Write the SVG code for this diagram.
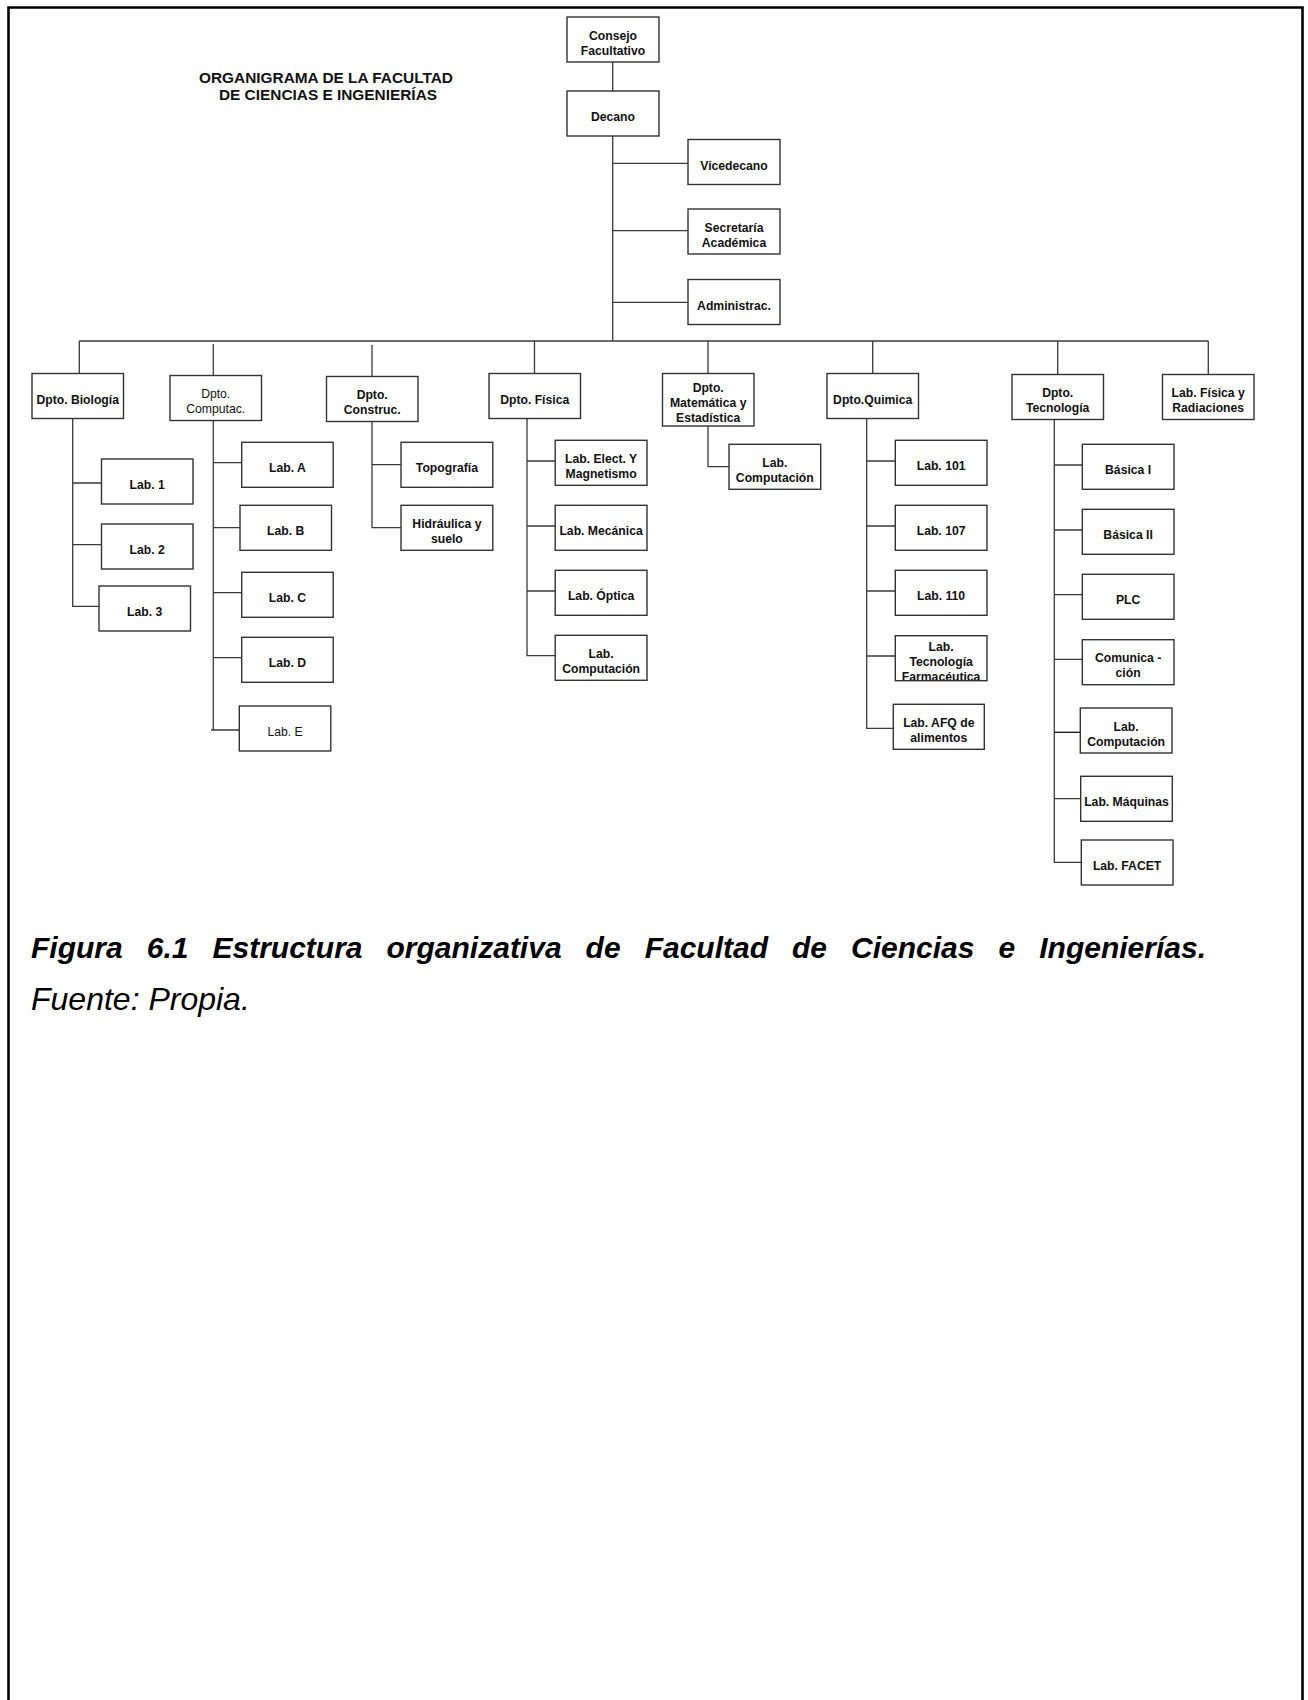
<svg xmlns="http://www.w3.org/2000/svg" width="1308" height="1700" viewBox="0 0 1308 1700">
  <style>
    .box { fill: #ffffff; stroke: #333333; stroke-width: 1.4; }
    .lbl { font-family: "Liberation Sans", Arial, sans-serif; font-size: 12.2px; font-weight: bold; fill: #111111; text-anchor: middle; }
    .reg { font-weight: normal; }
    .title { font-family: "Liberation Sans", Arial, sans-serif; font-size: 15.4px; font-weight: bold; fill: #111111; text-anchor: middle; }
    .cap { font-family: "Liberation Sans", Arial, sans-serif; font-style: italic; fill: #000000; }
    .wire { fill: none; stroke: #3a3a3a; stroke-width: 1.3; }
  </style>

  <rect width="1308" height="1700" fill="#ffffff"/>
  <!-- page frame -->
  <path d="M8.5,1700 V7.5 H1302.5 V1700" fill="none" stroke="#000000" stroke-width="2.6"/>

  <text class="title" x="326" y="82.5">ORGANIGRAMA DE LA FACULTAD</text>
  <text class="title" x="328" y="99.5">DE CIENCIAS E INGENIERÍAS</text>

  <!-- connectors -->
  <g id="connectors" class="wire">
    <path d="M612.7,62 V91"/>
    <path d="M612.7,136 V341"/>
    <path d="M612.7,163.3 H688 M612.7,230.7 H688 M612.7,302.3 H688"/>
    <path d="M79.3,341 H1208.3"/>
    <path d="M79.3,341 V373.5 M213.3,344 V375.5 M372,345 V376.5 M534.5,341 V373.5 M708,341 V373.5 M872.7,341 V373.5 M1057.7,341 V374.5 M1208.3,341 V374.5"/>
    <!-- Biología -->
    <path d="M72.7,418.5 V606.3 H99 M72.7,483 H101.5 M72.7,544.7 H101.5"/>
    <!-- Computación -->
    <path d="M213.3,420.5 V730 M211,730 H239.3 M213.3,462.7 H241.7 M213.3,527.7 H240 M213.3,592.7 H241.7 M213.3,657.7 H241.7"/>
    <!-- Construcción -->
    <path d="M372,421 V527.7 H401 M372,464.7 H401"/>
    <!-- Física -->
    <path d="M527,418.5 V655.7 H555.2 M527,461 H555.2 M527,526 H555.2 M527,591 H555.2"/>
    <!-- Matemática -->
    <path d="M708,426 V466.7 H729"/>
    <!-- Química -->
    <path d="M866.7,418.5 V728.3 H893.3 M866.7,461 H895.3 M866.7,526 H895.3 M866.7,591 H895.3 M866.7,656 H895.3"/>
    <!-- Tecnología -->
    <path d="M1054.3,419.5 V862.3 H1081.3 M1054.3,465 H1082.3 M1054.3,530 H1082.3 M1054.3,594.7 H1082.3 M1054.3,659.3 H1082.3 M1054.3,798.7 H1080.7" />
    <path d="M1054.3,732.3 H1080.3" stroke="#111111"/>
  </g>

  <!-- top management -->
  <g id="consejo"><rect class="box" x="567" y="17" width="92" height="45"/><text class="lbl" x="613" y="39.5">Consejo</text><text class="lbl" x="613" y="54.5">Facultativo</text></g>
  <g id="decano"><rect class="box" x="567" y="91" width="92" height="45"/><text class="lbl" x="613" y="121">Decano</text></g>
  <g id="vicedecano"><rect class="box" x="688" y="139.5" width="92" height="45"/><text class="lbl" x="734" y="169.5">Vicedecano</text></g>
  <g id="secretaria"><rect class="box" x="688" y="209" width="92" height="45"/><text class="lbl" x="734" y="231.5">Secretaría</text><text class="lbl" x="734" y="246.5">Académica</text></g>
  <g id="administrac"><rect class="box" x="688" y="279.5" width="92" height="45"/><text class="lbl" x="734" y="309.5">Administrac.</text></g>

  <!-- departments -->
  <g id="dpto-biologia"><rect class="box" x="32" y="373.5" width="91.5" height="45"/><text class="lbl" x="77.7" y="403.5">Dpto. Biología</text></g>
  <g id="dpto-computac"><rect class="box" x="170" y="375.5" width="91.5" height="45"/><text class="lbl reg" x="215.7" y="398">Dpto.</text><text class="lbl reg" x="215.7" y="413">Computac.</text></g>
  <g id="dpto-construc"><rect class="box" x="326.5" y="376.5" width="91.5" height="45"/><text class="lbl" x="372.2" y="399">Dpto.</text><text class="lbl" x="372.2" y="414">Construc.</text></g>
  <g id="dpto-fisica"><rect class="box" x="489" y="373.5" width="91.5" height="45"/><text class="lbl" x="534.7" y="403.5">Dpto. Física</text></g>
  <g id="dpto-matematica"><rect class="box" x="662.5" y="373.5" width="91.5" height="52.5"/><text class="lbl" x="708.2" y="392.2">Dpto.</text><text class="lbl" x="708.2" y="407">Matemática y</text><text class="lbl" x="708.2" y="421.8">Estadística</text></g>
  <g id="dpto-quimica"><rect class="box" x="827" y="373.5" width="91.5" height="45"/><text class="lbl" x="872.7" y="403.5">Dpto.Quimica</text></g>
  <g id="dpto-tecnologia"><rect class="box" x="1012" y="374.5" width="91.5" height="45"/><text class="lbl" x="1057.7" y="397">Dpto.</text><text class="lbl" x="1057.7" y="412">Tecnología</text></g>
  <g id="lab-fisica-radiaciones"><rect class="box" x="1162.5" y="374.5" width="91.5" height="45"/><text class="lbl" x="1208.2" y="397">Lab. Física y</text><text class="lbl" x="1208.2" y="412">Radiaciones</text></g>

  <!-- Biología labs -->
  <g id="bio-lab1"><rect class="box" x="101.5" y="459" width="91.5" height="45"/><text class="lbl" x="147.2" y="489">Lab. 1</text></g>
  <g id="bio-lab2"><rect class="box" x="101.5" y="524" width="91.5" height="45"/><text class="lbl" x="147.2" y="554">Lab. 2</text></g>
  <g id="bio-lab3"><rect class="box" x="99" y="586" width="91.5" height="45"/><text class="lbl" x="144.7" y="616">Lab. 3</text></g>

  <!-- Computación labs -->
  <g id="comp-labA"><rect class="box" x="241.7" y="442.3" width="91.5" height="45"/><text class="lbl" x="287.4" y="472.3">Lab. A</text></g>
  <g id="comp-labB"><rect class="box" x="240" y="505.3" width="91.5" height="45"/><text class="lbl" x="285.7" y="535.3">Lab. B</text></g>
  <g id="comp-labC"><rect class="box" x="241.7" y="572.3" width="91.5" height="45"/><text class="lbl" x="287.4" y="602.3">Lab. C</text></g>
  <g id="comp-labD"><rect class="box" x="241.7" y="637.3" width="91.5" height="45"/><text class="lbl" x="287.4" y="667.3">Lab. D</text></g>
  <g id="comp-labE"><rect class="box" x="239.3" y="706" width="91.5" height="45"/><text class="lbl reg" x="285" y="736">Lab. E</text></g>

  <!-- Construcción labs -->
  <g id="cons-topografia"><rect class="box" x="401" y="442.3" width="91.8" height="45"/><text class="lbl" x="446.9" y="472.3">Topografía</text></g>
  <g id="cons-hidraulica"><rect class="box" x="401" y="505.3" width="91.8" height="45"/><text class="lbl" x="446.9" y="527.8">Hidráulica y</text><text class="lbl" x="446.9" y="542.8">suelo</text></g>

  <!-- Física labs -->
  <g id="fis-elect"><rect class="box" x="555.2" y="440.3" width="91.8" height="45"/><text class="lbl" x="601.1" y="462.8">Lab. Elect. Y</text><text class="lbl" x="601.1" y="477.8">Magnetismo</text></g>
  <g id="fis-mecanica"><rect class="box" x="555.2" y="505.3" width="91.8" height="45"/><text class="lbl" x="601.1" y="535.3">Lab. Mecánica</text></g>
  <g id="fis-optica"><rect class="box" x="555.2" y="570.3" width="91.8" height="45"/><text class="lbl" x="601.1" y="600.3">Lab. Óptica</text></g>
  <g id="fis-computacion"><rect class="box" x="555.2" y="635.3" width="91.8" height="45"/><text class="lbl" x="601.1" y="657.8">Lab.</text><text class="lbl" x="601.1" y="672.8">Computación</text></g>

  <!-- Matemática lab -->
  <g id="mat-computacion"><rect class="box" x="729" y="444.3" width="91.7" height="45"/><text class="lbl" x="774.8" y="466.8">Lab.</text><text class="lbl" x="774.8" y="481.8">Computación</text></g>

  <!-- Química labs -->
  <g id="qui-lab101"><rect class="box" x="895.3" y="440.3" width="91.7" height="45"/><text class="lbl" x="941.1" y="470.3">Lab. 101</text></g>
  <g id="qui-lab107"><rect class="box" x="895.3" y="505.3" width="91.7" height="45"/><text class="lbl" x="941.1" y="535.3">Lab. 107</text></g>
  <g id="qui-lab110"><rect class="box" x="895.3" y="570.3" width="91.7" height="45"/><text class="lbl" x="941.1" y="600.3">Lab. 110</text></g>
  <g id="qui-farmaceutica"><text class="lbl" x="941.1" y="650.7">Lab.</text><text class="lbl" x="941.1" y="665.5">Tecnología</text><text class="lbl" x="941.1" y="680.5">Farmacéutica</text><rect class="box" x="895.3" y="635.7" width="91.7" height="45" style="fill:none"/></g>
  <g id="qui-afq"><rect class="box" x="893.3" y="704.3" width="91" height="45"/><text class="lbl" x="938.8" y="726.8">Lab. AFQ de</text><text class="lbl" x="938.8" y="741.8">alimentos</text></g>

  <!-- Tecnología labs -->
  <g id="tec-basica1"><rect class="box" x="1082.3" y="444.3" width="91.7" height="45"/><text class="lbl" x="1128.1" y="474.3">Básica I</text></g>
  <g id="tec-basica2"><rect class="box" x="1082.3" y="509.3" width="91.7" height="45"/><text class="lbl" x="1128.1" y="539.3">Básica II</text></g>
  <g id="tec-plc"><rect class="box" x="1082.3" y="574.3" width="91.7" height="45"/><text class="lbl" x="1128.1" y="604.3">PLC</text></g>
  <g id="tec-comunicacion"><rect class="box" x="1082.3" y="639.7" width="91.7" height="45"/><text class="lbl" x="1128.1" y="662">Comunica -</text><text class="lbl" x="1128.1" y="677">ción</text></g>
  <g id="tec-computacion"><rect class="box" x="1080.3" y="708" width="91.7" height="45"/><text class="lbl" x="1126.1" y="730.5">Lab.</text><text class="lbl" x="1126.1" y="745.5">Computación</text></g>
  <g id="tec-maquinas"><rect class="box" x="1080.7" y="776.3" width="91.6" height="45"/><text class="lbl" x="1126.5" y="806.3">Lab. Máquinas</text></g>
  <g id="tec-facet"><rect class="box" x="1081.3" y="840" width="91.7" height="45"/><text class="lbl" x="1127.1" y="870">Lab. FACET</text></g>

  <!-- caption, justified to the text column -->
  <text class="cap" x="31" y="958" font-size="30" font-weight="bold" word-spacing="15.7">Figura 6.1 Estructura organizativa de Facultad de Ciencias e Ingenierías.</text>
  <text class="cap" x="31" y="1010" font-size="32">Fuente: Propia.</text>
</svg>
